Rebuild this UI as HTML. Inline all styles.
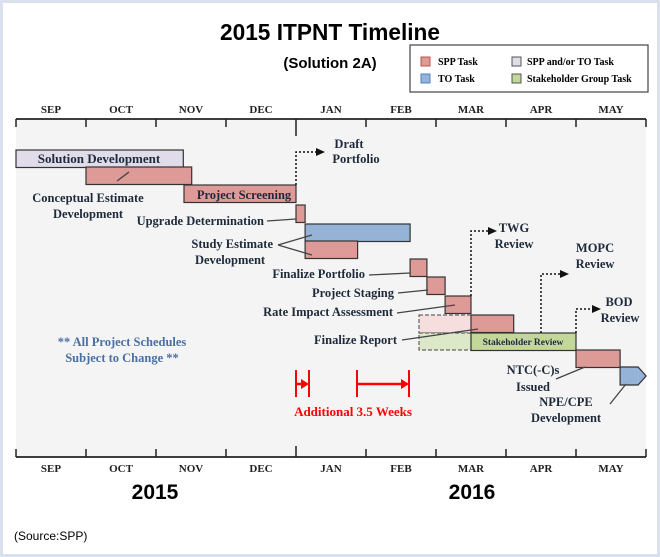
<!DOCTYPE html>
<html><head><meta charset="utf-8"><style>
html,body{margin:0;padding:0;background:#fff}
svg{display:block}
.m{font:bold 11px "Liberation Serif",serif;fill:#222}
.l{font:bold 12.5px "Liberation Serif",serif;fill:#1e2a3a}
</style></head><body>
<svg id="c" width="660" height="557" viewBox="0 0 660 557" xmlns="http://www.w3.org/2000/svg">
<rect x="1.5" y="1.5" width="657" height="554" fill="#fff" stroke="#d9e1ee" stroke-width="3"/>
<rect x="16" y="119" width="630" height="338" fill="#f4f4f4"/>
<text x="330" y="40" text-anchor="middle" textLength="220" lengthAdjust="spacingAndGlyphs" style="font:bold 23px 'Liberation Sans',sans-serif">2015 ITPNT Timeline</text>
<text x="330" y="68" text-anchor="middle" style="font:bold 15px 'Liberation Sans',sans-serif">(Solution 2A)</text>
<g>
<rect x="410" y="45" width="238" height="47" fill="#fff" stroke="#444" stroke-width="1.2"/>
<rect x="421" y="57" width="9" height="9" fill="#dd9a97" stroke="#c0504d"/>
<text x="438" y="65" style="font:bold 10px 'Liberation Serif',serif">SPP Task</text>
<rect x="421" y="74" width="9" height="9" fill="#95b3d7" stroke="#4f81bd"/>
<text x="438" y="82" style="font:bold 10px 'Liberation Serif',serif">TO Task</text>
<rect x="512" y="57" width="9" height="9" fill="#e0dcea" stroke="#555"/>
<text x="527" y="65" style="font:bold 10px 'Liberation Serif',serif">SPP and/or TO Task</text>
<rect x="512" y="74" width="9" height="9" fill="#c4d79b" stroke="#555"/>
<text x="527" y="82" style="font:bold 10px 'Liberation Serif',serif">Stakeholder Group Task</text>
</g>
<g id="axes"></g>
<g id="bars"></g>
<g id="ann"></g>
<text x="155" y="499" text-anchor="middle" style="font:bold 21px 'Liberation Sans',sans-serif">2015</text>
<text x="472" y="499" text-anchor="middle" style="font:bold 21px 'Liberation Sans',sans-serif">2016</text>
<text x="14" y="540" style="font:12px 'Liberation Sans',sans-serif">(Source:SPP)</text>
</svg>
<script>
const months=["SEP","OCT","NOV","DEC","JAN","FEB","MAR","APR","MAY"];
const taskNames=["Solution Development","Conceptual Estimate","Project Screening","Upgrade Determination","Study Estimate TO","Study Estimate SPP","Finalize Portfolio","Project Staging","Rate Impact Assessment","Finalize Report","Stakeholder Review","NTC(-C)s Issued"];
const taskStart=[0,1,2.4,4,4.13,4.13,5.63,5.87,6.13,6.5,6.5,8];
const taskEnd=[2.39,2.51,4,4.13,5.63,4.88,5.87,6.13,6.5,7.11,8,8.63];
const taskRow=[0,1,2,3,4,5,6,7,8,9,10,11];
const taskType=["both","spp","spp","spp","to","spp","spp","spp","spp","spp","stake","spp"];
const X0=16,MW=70;
const x=m=>X0+m*MW;
const rowY=[150,167,185,205,224,241,259,277,296,315,333,350];
const RH=17.5;
const fills={spp:["#dd9a97","#333"],to:["#95b3d7","#333"],both:["#e0dcea","#333"],stake:["#c4d79b","#333"]};
const NS="http://www.w3.org/2000/svg";
function mk(tag,at,parent,txt){const e=document.createElementNS(NS,tag);for(const k in at)e.setAttribute(k,at[k]);if(txt!==undefined)e.textContent=txt;parent.appendChild(e);return e;}
const ax=document.getElementById('axes');
let l=mk('line',{x1:16,y1:119,x2:646,y2:119,stroke:'#222','stroke-width':1.8},ax);


l=mk('line',{x1:16,y1:457,x2:646,y2:457,stroke:'#222','stroke-width':1.8},ax);


for(let i=0;i<=months.length;i++){
  const xx=x(i);
  const t1=mk('line',{x1:xx,y1:119,x2:xx,y2:i==4?136:127,stroke:'#222','stroke-width':1.5},ax);
  
  
  const t2=mk('line',{x1:xx,y1:457,x2:xx,y2:i==4?446:449,stroke:'#222','stroke-width':1.5},ax);
  
  
}
months.forEach((m,i)=>{
  const a=mk('text',{x:x(i+0.5),y:113,'text-anchor':'middle',class:'m'},ax,m);
  
  
  const b=mk('text',{x:x(i+0.5),y:472,'text-anchor':'middle',class:'m'},ax,m);
  
  
});
const bg=document.getElementById('bars');
let d=mk('rect',{x:419,y:315,width:52,height:18,fill:'#f7dede',stroke:'#444','stroke-dasharray':'4,2'},bg);


d=mk('rect',{x:419,y:333,width:52,height:17,fill:'#dde8c8',stroke:'#444','stroke-dasharray':'4,2'},bg);


taskNames.forEach((n,i)=>{
  const f=fills[taskType[i]];
  const r=mk('rect',{x:x(taskStart[i]),y:rowY[taskRow[i]],width:x(taskEnd[i])-x(taskStart[i]),height:RH,fill:f[0],stroke:f[1],'stroke-width':1.2},bg);
  
  
});
let p=mk('polygon',{points:`${x(8.63)},367 ${x(8.63)+18},367 ${x(8.63)+26},376 ${x(8.63)+18},385 ${x(8.63)},385`,fill:'#95b3d7',stroke:'#333','stroke-width':1.2},bg);


let t=mk('text',{x:99,y:163,'text-anchor':'middle',class:'l',style:'font-size:13px'},bg,'Solution Development');


t=mk('text',{x:244,y:199,'text-anchor':'middle',class:'l',style:'font-size:12.5px'},bg,'Project Screening');


t=mk('text',{x:523,y:345,'text-anchor':'middle',class:'l',style:'font-size:9.5px'},bg,'Stakeholder Review');


const an=document.getElementById('ann');
const labels=[
 ["Conceptual Estimate",88,202,"middle"],["Development",88,218,"middle"],
 ["Upgrade Determination",264,225,"end"],
 ["Study Estimate",273,248,"end"],["Development",230,264,"middle"],
 ["Finalize Portfolio",365,278,"end"],["Project Staging",394,297,"end"],
 ["Rate Impact Assessment",393,316,"end"],["Finalize Report",397,344,"end"],
 ["NTC(-C)s",533,374,"middle"],["Issued",533,391,"middle"],
 ["NPE/CPE",566,406,"middle"],["Development",566,422,"middle"],
 ["Draft",349,148,"middle"],["Portfolio",356,163,"middle"],
 ["TWG",514,232,"middle"],["Review",514,248,"middle"],
 ["MOPC",595,252,"middle"],["Review",595,268,"middle"],
 ["BOD",619,306,"middle"],["Review",620,322,"middle"]];
labels.forEach(a=>{
  const e=mk('text',{x:a[1],y:a[2],'text-anchor':a[3],class:'l'},an,a[0]);
  
  
});
const leaders=[[117,181,129,172],[267,221,296,219],[278,245,312,235],[278,245,312,255],[369,275,410,273],[398,293,428,290],[397,313,455,305],[402,340,478,329],[556,379,585,367],[610,404,626,384]];
leaders.forEach(a=>{
  const e=mk('line',{x1:a[0],y1:a[1],x2:a[2],y2:a[3],stroke:'#444','stroke-width':1.3},an);
  
  
});
const dots=[[296,185,152,316],[471,296,231,488],[541,333,274,560],[576,333,309,592]];
dots.forEach(a=>{
  const e=mk('path',{d:`M${a[0]} ${a[1]} V${a[2]} H${a[3]}`,fill:'none',stroke:'#111','stroke-width':1.5,'stroke-dasharray':'2,2'},an);
  
  
  const h=mk('polygon',{points:`${a[3]},${a[2]-4} ${a[3]+9},${a[2]} ${a[3]},${a[2]+4}`,fill:'#111'},an);
  
  
});
const red='#f00';
[[296,309],[357,409]].forEach(a=>{
  const g=mk('g',{},an);
  
  
  mk('line',{x1:a[0],y1:370,x2:a[0],y2:397,stroke:red,'stroke-width':2},g);
  mk('line',{x1:a[1],y1:370,x2:a[1],y2:397,stroke:red,'stroke-width':2},g);
  mk('line',{x1:a[0],y1:384,x2:a[1]-6,y2:384,stroke:red,'stroke-width':2.5},g);
  mk('polygon',{points:`${a[1]-8},379 ${a[1]},384 ${a[1]-8},389`,fill:red},g);
});
t=mk('text',{x:353,y:416,'text-anchor':'middle',class:'l',style:'fill:#f00;font-size:13px'},an,'Additional 3.5 Weeks');


t=mk('text',{x:122,y:346,'text-anchor':'middle',class:'l',style:'fill:#4a6fa5'},an,'** All Project Schedules');


t=mk('text',{x:122,y:362,'text-anchor':'middle',class:'l',style:'fill:#4a6fa5'},an,'Subject to Change **');


</script>
</body></html>
